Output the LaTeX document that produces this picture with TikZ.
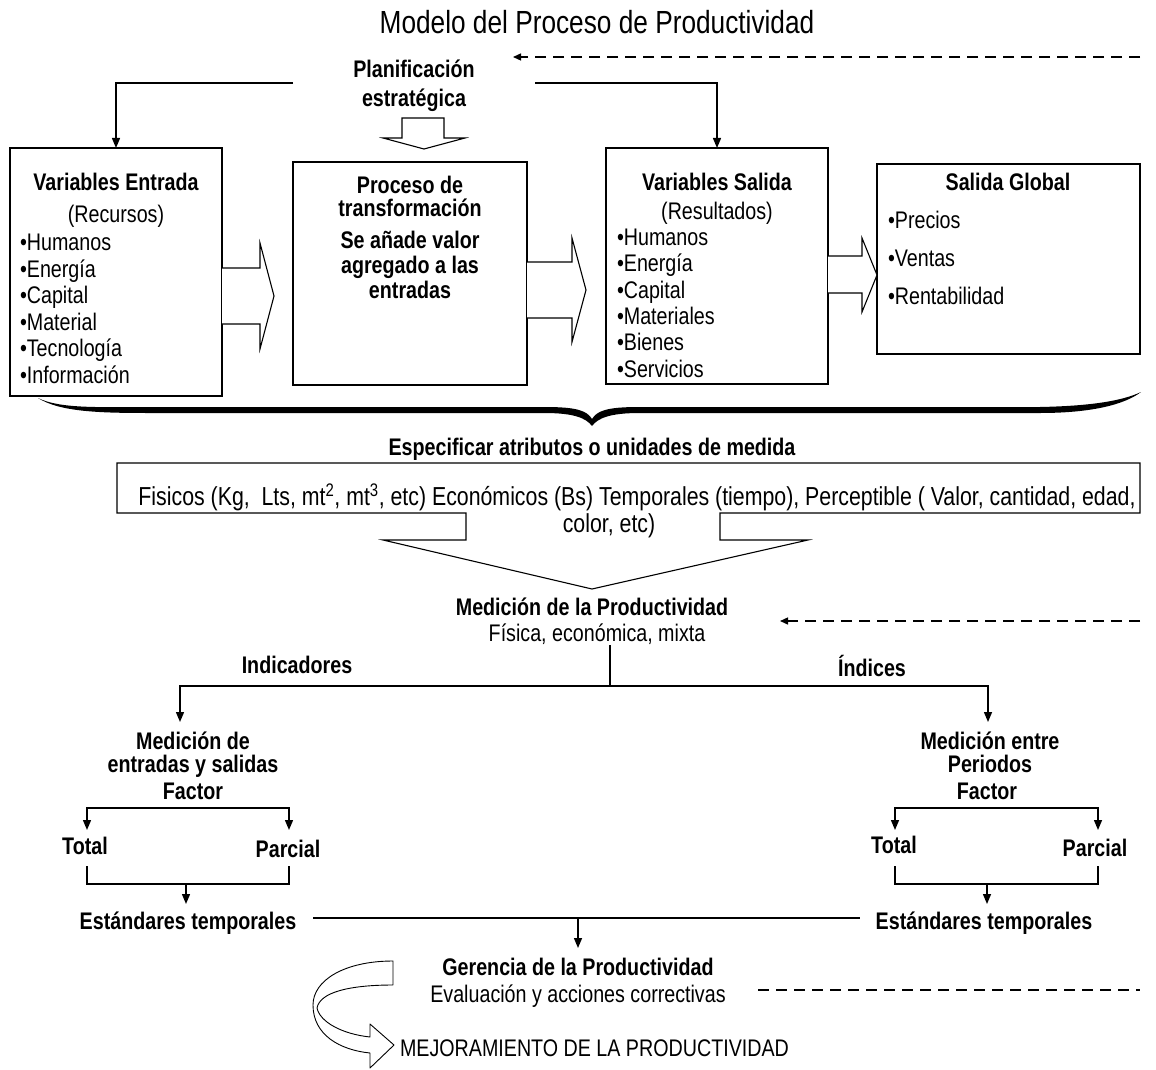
\documentclass[tikz,border=0pt]{standalone}
\usepackage{fontspec}
\setmainfont[FakeStretch=0.82]{Liberation Sans}
\usetikzlibrary{arrows.meta}
\begin{document}
\begin{tikzpicture}[x=1pt,y=-1pt,
  every node/.style={inner sep=0pt, outer sep=0pt},
  body/.style={font=\fontsize{24}{26.6}\selectfont, anchor=base},
  head/.style={font=\fontsize{24}{26.6}\selectfont\bfseries, anchor=base},
  item/.style={font=\fontsize{24}{26.6}\selectfont, anchor=base west},
  frame/.style={draw, line width=1.2pt, anchor=north west},
  link/.style={line width=1.4pt},
  tip/.style={line width=1.4pt, -{Triangle[length=10pt,width=8pt]}},
  feedback/.style={line width=1.4pt, dash pattern=on 11pt off 7pt},
  hollow/.style={draw, line width=1.1pt, fill=white, line join=miter},
]
\useasboundingbox (0,0) rectangle (1156,1070);

% title
\node[font=\fontsize{32}{36}\selectfont, anchor=base] (title) at (597,33.5) {Modelo del Proceso de Productividad};

% strategic planning
\node[head] (plan1) at (414,77.5) {Planificación};
\node[head] (plan2) at (414,106.5) {estratégica};

% four boxes
\node[frame, minimum width=212pt, minimum height=248pt] (entrada) at (10,148) {};
\node[frame, minimum width=234pt, minimum height=223pt] (proceso) at (293,162) {};
\node[frame, minimum width=222pt, minimum height=236pt] (salida) at (606,148) {};
\node[frame, minimum width=263pt, minimum height=190pt] (global) at (877,164) {};

% input variables
\node[head] (ent1) at (116,190.5) {Variables Entrada};
\node[body] (ent2) at (116,222.5) {(Recursos)};
\foreach \t [count=\i] in {Humanos,Energía,Capital,Material,Tecnología,Información}
  \node[item] (ei\i) at (20,{250.5+26.6*(\i-1)}) {•\t};

% transformation
\node[head] (pro1) at (410,193.5) {Proceso de};
\node[head] (pro2) at (410,216.5) {transformación};
\node[head] (pro3) at (410,248.5) {Se añade valor};
\node[head] (pro4) at (410,273.5) {agregado a las};
\node[head] (pro5) at (410,298.5) {entradas};

% output variables
\node[head] (sal1) at (717,190.5) {Variables Salida};
\node[body] (sal2) at (717,219.5) {(Resultados)};
\foreach \t [count=\i] in {Humanos,Energía,Capital,Materiales,Bienes,Servicios}
  \node[item] (si\i) at (617,{245.5+26.3*(\i-1)}) {•\t};

% global output
\node[head] (glo1) at (1008,190.5) {Salida Global};
\node[item] (gi1) at (888,228.5) {•Precios};
\node[item] (gi2) at (888,266.5) {•Ventas};
\node[item] (gi3) at (888,304.5) {•Rentabilidad};

% planning connectors
\coordinate (pl) at (293,83);
\coordinate (pr) at (535,83);
\draw[tip] (pl) -| (entrada.north);
\draw[tip] (pr) -| (salida.north);
\coordinate (fb1s) at (1140,57);
\coordinate (fb1e) at (513,57);
\draw[feedback, -{Triangle[length=8pt,width=7pt]}] (fb1s) -- (fb1e);

% hollow block arrows
\draw[hollow] (402,118) -- (444,118) -- (444,138) -- (465,138) -- (424,149) -- (383,138) -- (402,138) -- cycle;
\draw[hollow] (222,268) -- (260,268) -- (260,243) -- (274,296) -- (260,349) -- (260,324) -- (222,324);
\draw[hollow] (527,262) -- (572,262) -- (572,238) -- (586,290) -- (572,342) -- (572,318) -- (527,318);
\draw[hollow] (828,256) -- (862,256) -- (862,238) -- (877,275) -- (862,312) -- (862,293) -- (828,293);

% brace
\fill (38,398) .. controls (60,409) and (100,407) .. (150,407) -- (545,407)
  .. controls (578,407) and (587,411) .. (592,419)
  .. controls (597,411) and (606,407) .. (639,407) -- (1040,407)
  .. controls (1090,406) and (1122,401) .. (1141,392)
  .. controls (1124,405) and (1090,413) .. (1040,413) -- (640,413)
  .. controls (610,413) and (598,418) .. (592,426)
  .. controls (586,418) and (574,413) .. (544,413) -- (150,413)
  .. controls (100,413) and (60,412) .. (38,398) -- cycle;

\node[head] (espec) at (592,455.5) {Especificar atributos o unidades de medida};

% units box merged with a downward block arrow
\draw[hollow] (117,463) -- (1140,463) -- (1140,513) -- (720,513) -- (720,540) -- (808,540)
  -- (592,589) -- (383,540) -- (466,540) -- (466,513) -- (117,513) -- cycle;
\node[font=\fontsize{26}{28}\selectfont, anchor=base] (uni1) at (637,505.5) {Fisicos (Kg,\ \ Lts, mt\textsuperscript{2}, mt\textsuperscript{3}, etc) Económicos (Bs) Temporales (tiempo), Perceptible ( Valor, cantidad, edad,};
\node[font=\fontsize{26}{28}\selectfont, anchor=base] (uni2) at (609,532.5) {color, etc)};

% measurement
\node[head] (med1) at (592,615.5) {Medición de la Productividad};
\node[body] (med2) at (597,641.5) {Física, económica, mixta};
\coordinate (fb2s) at (1140,621);
\coordinate (fb2e) at (780,621);
\draw[feedback, -{Triangle[length=8pt,width=7pt]}] (fb2s) -- (fb2e);

\node[head] (ind) at (297,673.5) {Indicadores};
\node[head] (idx) at (872,676.5) {Índices};

\coordinate (sp) at (610,645);
\coordinate (spj) at (610,686);
\coordinate (spl) at (180,722);
\coordinate (spr) at (988,722);
\draw[link] (sp) -- (spj);
\draw[tip] (spj) -| (spl);
\draw[tip] (spj) -| (spr);

% left branch
\node[head] (le1) at (193,749.5) {Medición de};
\node[head] (le2) at (193,772.5) {entradas y salidas};
\node[head] (le3) at (193,799.5) {Factor};
\coordinate (lfj) at (188,808);
\coordinate (lft) at (87,830);
\coordinate (lfp) at (289,830);
\draw[tip] (lfj) -| (lft);
\draw[tip] (lfj) -| (lfp);
\node[head] (ltot) at (85,854.5) {Total};
\node[head] (lpar) at (288,857.5) {Parcial};
\draw[link] (87,866) |- (289,884) -- (289,866);
\coordinate (lmj) at (186,884);
\coordinate (lme) at (186,904);
\draw[tip] (lmj) -- (lme);
\node[head] (lest) at (188,929.5) {Estándares temporales};

% right branch
\node[head] (ri1) at (990,749.5) {Medición entre};
\node[head] (ri2) at (990,772.5) {Periodos};
\node[head] (ri3) at (987,799.5) {Factor};
\coordinate (rfj) at (990,808);
\coordinate (rft) at (895,830);
\coordinate (rfp) at (1098,830);
\draw[tip] (rfj) -| (rft);
\draw[tip] (rfj) -| (rfp);
\node[head] (rtot) at (894,853.5) {Total};
\node[head] (rpar) at (1095,856.5) {Parcial};
\draw[link] (895,866) |- (1098,884) -- (1098,866);
\coordinate (rmj) at (987,884);
\coordinate (rme) at (987,904);
\draw[tip] (rmj) -- (rme);
\node[head] (rest) at (984,929.5) {Estándares temporales};

% joining line to management
\coordinate (jl) at (313,918);
\coordinate (jr) at (860,918);
\coordinate (jm) at (578,918);
\coordinate (je) at (578,948);
\draw[link] (jl) -- (jr);
\draw[tip] (jm) -- (je);

\node[head] (ger1) at (578,975.5) {Gerencia de la Productividad};
\node[body] (ger2) at (578,1002.5) {Evaluación y acciones correctivas};
\coordinate (fb3s) at (758,990);
\coordinate (fb3e) at (1140,990);
\draw[feedback] (fb3s) -- (fb3e);

% curved improvement arrow
\draw[hollow, line width=0.9pt, line join=round]
  (393,961) .. controls (345,961) and (313,980) .. (313,1005)
  .. controls (313,1035) and (340,1050) .. (370,1053)
  -- (370,1068) -- (394,1045) -- (370,1024) -- (370,1037)
  .. controls (342,1034) and (320,1022) .. (317,1008)
  .. controls (320,992) and (350,985) .. (393,985) -- cycle;
\node[font=\fontsize{24}{26.6}\selectfont, anchor=base west] (mej) at (400,1056.5) {MEJORAMIENTO DE LA PRODUCTIVIDAD};
\end{tikzpicture}
\end{document}
